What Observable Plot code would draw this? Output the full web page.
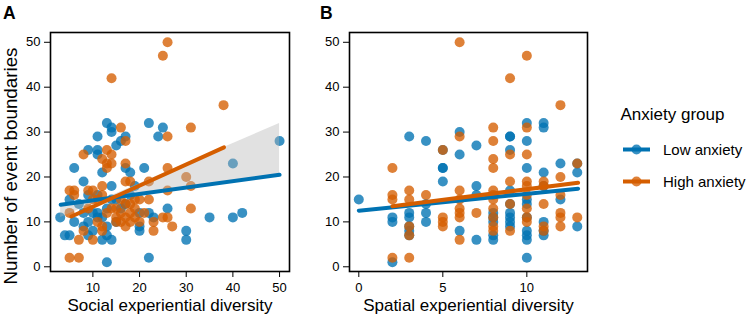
<!DOCTYPE html>
<html><head><meta charset="utf-8">
<script src="https://cdn.jsdelivr.net/npm/d3@7"></script>
<script src="https://cdn.jsdelivr.net/npm/@observablehq/plot@0.6"></script>
<style>
body{margin:0;background:#fff;font-family:"Liberation Sans",Arial,sans-serif;}
#wrap{position:relative;width:748px;height:319px;overflow:hidden;background:#fff;}
.panel{position:absolute;top:0;}
.plab{position:absolute;font-weight:bold;font-size:17.5px;line-height:1;color:#000;}
</style></head><body><div id="wrap"></div>
<script>
const groups = ["Low anxiety", "High anxiety"];
const groupColors = ["#0072B2", "#D55E00"];
const yTicks = [0, 10, 20, 30, 40, 50];
const socialTicks = [10, 20, 30, 40, 50];
const spatialTicks = [0, 5, 10];
const yTitle = "Number of event boundaries";
const socialTitle = "Social experiential diversity";
const spatialTitle = "Spatial experiential diversity";
const legendTitle = "Anxiety group";

// Panel A: social experiential diversity (x, boundaries)
const socialLow = [[3,11],[4,7],[5,7],[5,15],[6,10],[6,22],[7,14],[8,19],[8,9],[8,12],[9,26],[9,7],[9,10],[9,16],[10,12],[10,8],[11,26],[11,25],[11,29],[11,12],[11,11],[11,16],[12,21],[12,6],[12,11],[13,32],[13,7],[13,1],[13,9],[13,13],[14,31],[14,30],[14,6],[14,15],[14,18],[15,27],[15,15],[15,10],[16,28],[16,13],[17,29],[17,22],[17,14],[18,21],[18,16],[19,18],[20,12],[20,9],[20,8],[21,22],[22,32],[22,12],[22,2],[23,11],[24,29],[25,31],[26,13],[30,8],[30,6],[35,11],[40,23],[40,11],[42,12],[50,28]];
const socialHigh = [[5,17],[6,17],[5,2],[7,2],[7,6],[8,8],[8,25],[9,17],[10,17],[10,6],[10,15],[11,15],[11,10],[12,9],[12,8],[12,18],[12,24],[13,26],[13,23],[13,22],[13,12],[14,25],[14,23],[14,13],[14,42],[15,13],[15,11],[15,10],[16,31],[16,12],[16,10],[17,28],[17,23],[17,19],[17,14],[17,11],[17,9],[18,19],[18,12],[18,14],[18,10],[19,15],[19,11],[20,10],[20,15],[22,19],[22,15],[23,10],[23,8],[25,11],[26,11],[27,9],[25,47],[26,50],[26,29],[26,22],[26,17],[30,20],[31,18],[31,31],[31,13],[38,36],[5,12],[6,16],[9,13],[12,16],[16,15],[19,13],[21,12]];
// Panel B: spatial experiential diversity
const spatialLow = [[0,15],[2,11],[2,10],[2,1],[3,29],[3,12],[3,11],[3,9],[3,8],[3,7],[4,28],[4,14],[4,12],[4,10],[5,26],[5,22],[5,22],[5,19],[6,30],[6,25],[6,8],[7,27],[7,18],[7,16],[7,6],[8,12],[8,11],[8,10],[8,7],[8,6],[9,29],[9,29],[9,26],[9,17],[9,14],[9,12],[9,11],[9,10],[9,9],[10,32],[10,28],[10,22],[10,15],[10,14],[10,11],[10,8],[10,7],[10,6],[10,2],[11,32],[11,31],[11,21],[11,18],[11,10],[11,8],[11,7],[12,23],[12,15],[13,23],[13,21],[13,9]];
const spatialHigh = [[2,22],[2,16],[2,15],[2,2],[3,17],[3,15],[3,9],[3,7],[3,2],[4,16],[5,26],[5,11],[5,10],[5,9],[6,50],[6,29],[6,17],[6,15],[6,13],[6,12],[6,11],[6,6],[7,12],[8,31],[8,28],[8,24],[8,22],[8,17],[8,16],[8,15],[8,13],[8,11],[8,9],[8,8],[9,42],[9,25],[9,19],[9,14],[9,8],[10,47],[10,31],[10,25],[10,19],[10,18],[10,16],[10,13],[10,11],[10,10],[11,19],[11,18],[11,14],[11,9],[11,8],[12,36],[12,20],[12,16],[12,12],[12,11],[12,9],[13,23],[13,11]];

// fitted lines (endpoints)
const socialFitLow = [[3.1,13.8],[50,20.5]];
const socialFitHigh = [[5.4,11.2],[38.1,26.6]];
const spatialFitLow = [[0,12.5],[13.05,17.4]];
const spatialFitHigh = [[2,13.5],[13.05,18.7]];
// grey band in panel A: [x, edge, line]
const socialBand = [[3.1,11.0,13.8],[50,31.9,20.5]];

const FONT = "Liberation Sans, Arial, Helvetica, sans-serif";

function toRows(low, high) {
  return [...low.map(([x,y]) => ({x, y, g: groups[0]})), ...high.map(([x,y]) => ({x, y, g: groups[1]}))];
}

function panel({low, high, fitLow, fitHigh, band, xDomain, xTicks, xTitle, showYTitle, width, mL, mR}) {
  const marks = [
    Plot.dot(toRows(low, high), {x: "x", y: "y", fill: "g", r: 5, fillOpacity: 0.78}),
  ];
  if (band) {
    marks.push(Plot.areaY(band.map(([x,a,b]) => ({x, a, b})), {x: "x", y1: "a", y2: "b", fill: "#b4b4b4", fillOpacity: 0.4}));
  }
  marks.push(
    Plot.line(toRows(fitLow, fitHigh), {x: "x", y: "y", z: "g", stroke: "g", strokeWidth: 4}),
    Plot.frame({stroke: "#000", strokeWidth: 1.6}),
    Plot.axisX({ticks: xTicks, tickSize: 6, tickPadding: 5, fontSize: 13, label: null, stroke: "#000"}),
    Plot.axisY({ticks: yTicks, tickSize: 6, tickPadding: 4, fontSize: 13, label: null, stroke: "#000"}),
    Plot.text([xTitle], {text: d => d, frameAnchor: "bottom", textAnchor: "middle", lineAnchor: "top", dy: 27, fontSize: 17, fill: "#000"})
  );
  if (showYTitle) {
    marks.push(Plot.text([yTitle], {text: d => d, frameAnchor: "left", textAnchor: "middle", lineAnchor: "middle", rotate: -90, dx: -40, dy: 14, fontSize: 18.8, fill: "#000"}));
  }
  return Plot.plot({
    width, height: 319,
    marginLeft: mL, marginRight: mR, marginTop: 32, marginBottom: 48,
    x: {domain: xDomain},
    y: {domain: [-1.05, 52.18]},
    color: {domain: groups, range: groupColors},
    style: {fontFamily: FONT, color: "#000", background: "transparent", overflow: "visible"},
    marks
  });
}

const wrap = document.getElementById("wrap");

const pA = panel({low: socialLow, high: socialHigh, fitLow: socialFitLow, fitHigh: socialFitHigh, band: socialBand,
  xDomain: [0.92, 52.13], xTicks: socialTicks, xTitle: socialTitle, showYTitle: true, width: 300, mL: 50, mR: 11});
pA.classList.add("panel"); pA.style.left = "0px";
wrap.appendChild(pA);

const pB = panel({low: spatialLow, high: spatialHigh, fitLow: spatialFitLow, fitHigh: spatialFitHigh, band: null,
  xDomain: [-0.554, 13.61], xTicks: spatialTicks, xTitle: spatialTitle, showYTitle: false, width: 300, mL: 49, mR: 13});
pB.classList.add("panel"); pB.style.left = "300px";
wrap.appendChild(pB);

// panel tags
[["A", 3], ["B", 320]].forEach(([t, x]) => {
  const d = document.createElement("div");
  d.className = "plab"; d.textContent = t;
  d.style.left = x + "px"; d.style.top = "5px";
  wrap.appendChild(d);
});

// legend
const leg = d3.create("svg").attr("width", 148).attr("height", 120)
  .style("position", "absolute").style("left", "600px").style("top", "90px")
  .style("font-family", FONT);
leg.append("text").attr("x", 20.5).attr("y", 29.5).attr("font-size", 17).attr("fill", "#000").text(legendTitle);
groups.forEach((g, i) => {
  const cy = 59.5 + i * 32;
  leg.append("line").attr("x1", 23).attr("x2", 50).attr("y1", cy).attr("y2", cy)
    .attr("stroke", groupColors[i]).attr("stroke-width", 4);
  leg.append("circle").attr("cx", 36.5).attr("cy", cy).attr("r", 5)
    .attr("fill", groupColors[i]).attr("fill-opacity", 0.78);
  leg.append("text").attr("x", 63).attr("y", cy + 5).attr("font-size", 15).attr("fill", "#000").text(g);
});
wrap.appendChild(leg.node());
</script></body></html>
